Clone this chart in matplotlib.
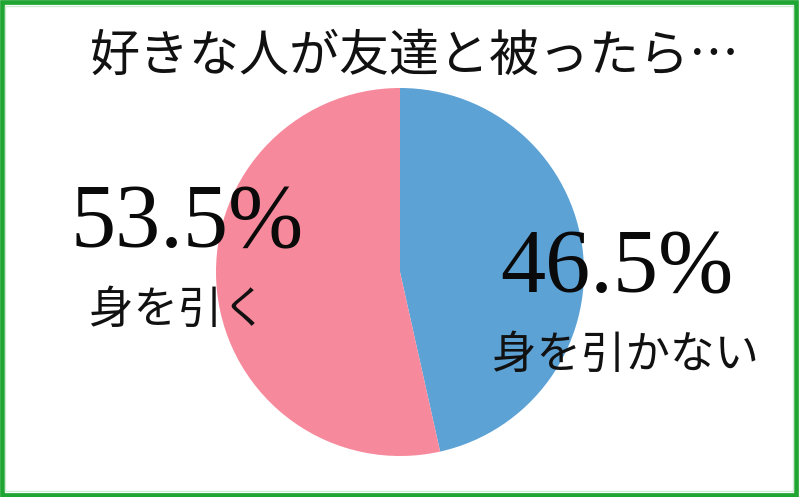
import matplotlib.pyplot as plt
from matplotlib.patches import Rectangle

# data
title = '好きな人が友達と被ったら…'
labels = ['身を引かない', '身を引く']
values = [46.5, 53.5]
colors = ['#5DA2D5', '#F7899C']

W, H = 800, 497
fig = plt.figure(figsize=(W / 100, H / 100), dpi=100)
fig.patch.set_facecolor('white')


def fx(px):
    return px / W


def fy(py):
    return 1 - py / H


# pie axes, centre ~ (400, 272) px, radius ~184 px
cx, cy, r = 400, 272, 184
ax = fig.add_axes([fx(cx - r), fy(cy + r), 2 * r / W, 2 * r / H])
ax.pie(values, colors=colors, startangle=90, counterclock=False, radius=1,
       wedgeprops={'linewidth': 0})
ax.set_xlim(-1, 1)
ax.set_ylim(-1, 1)
ax.set_aspect('equal')
ax.axis('off')

jp = ['Noto Sans CJK JP', 'DejaVu Sans']
fig.text(fx(415), fy(57), title, ha='center', va='center', fontsize=36,
         family=jp, color='#111111')

# percentage labels
pct_pos = [(617, 270), (187, 225)]
name_pos = [(625, 355), (178, 310)]
for i in range(len(values)):
    px, py = pct_pos[i]
    fig.text(fx(px), fy(py), f'{values[i]}%', ha='center', va='center',
             fontsize=65, family='Liberation Serif', color='#0A0A0A')
    nx, ny = name_pos[i]
    fig.text(fx(nx), fy(ny), labels[i], ha='center', va='center',
             fontsize=32, family=jp, color='#111111')

# green frame
fig.patches.append(Rectangle((fx(2), fy(495)), fx(794), (493) / H,
                             transform=fig.transFigure, fill=False,
                             edgecolor='#1FA531', linewidth=3.4))
fig.patches.append(Rectangle((fx(5), fy(491)), fx(788), (485) / H,
                             transform=fig.transFigure, fill=False,
                             edgecolor='#CFEBD2', linewidth=1))

fig.savefig('out.png', dpi=100, facecolor='white')
